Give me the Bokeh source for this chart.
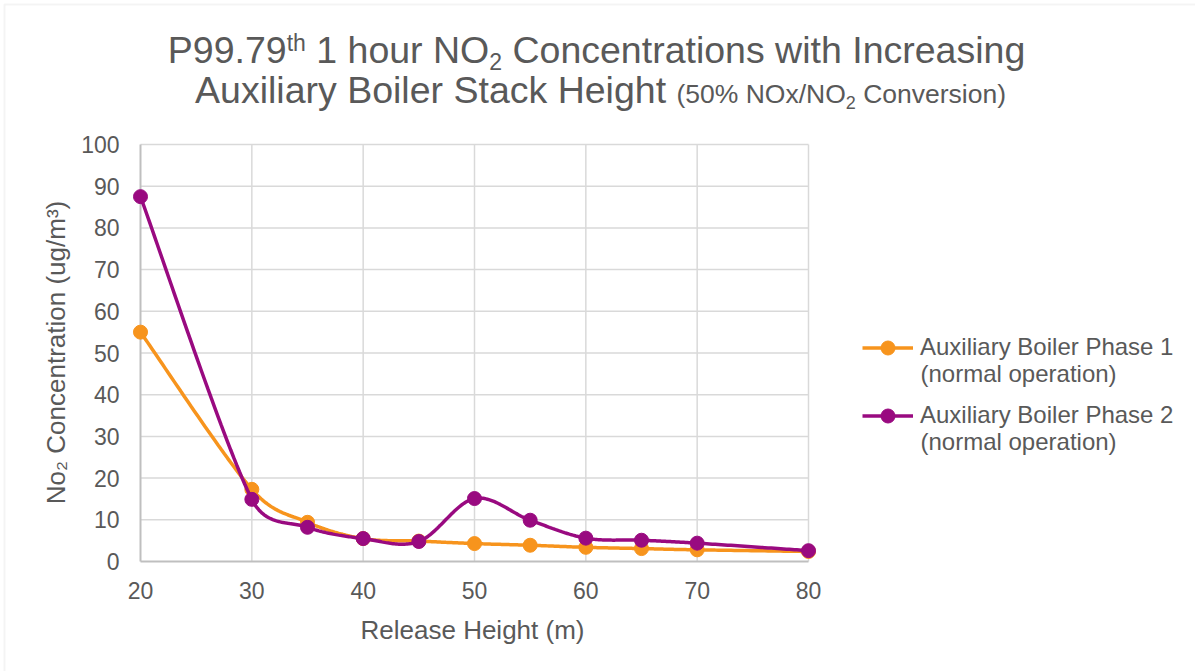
from bokeh.plotting import figure
from bokeh.models import Label, Legend, LegendItem, BoxAnnotation, Range1d
from bokeh.core.properties import value
from bokeh.embed import file_html
from bokeh.resources import INLINE
import numpy as np

# ---- data ----
release_height = [20, 30, 35, 40, 45, 50, 55, 60, 65, 70, 80]
phase1 = [55.0, 17.3, 9.4, 5.5, 4.9, 4.3, 3.9, 3.4, 3.1, 2.8, 2.4]
phase2 = [87.5, 14.9, 8.2, 5.5, 4.8, 15.1, 9.9, 5.6, 5.1, 4.4, 2.6]
series_names = ["Auxiliary Boiler Phase 1", "Auxiliary Boiler Phase 2"]
series_sub = ["(normal operation)", "(normal operation)"]
x_ticks = [20, 30, 40, 50, 60, 70, 80]
y_ticks = [0, 10, 20, 30, 40, 50, 60, 70, 80, 90, 100]
x_title = "Release Height (m)"
y_title = "No\u2082 Concentration (ug/m\u00b3)"

ORANGE = "#F7941D"
PURPLE = "#990A80"
TXT = "#595959"
GRID = "#D9D9D9"
AXIS = "#BFBFBF"
FONT = "Liberation Sans"

W, H = 1195, 671
# plot area in canvas pixels
PL, PR, PT, PB = 140, 808, 144, 561
KX = (x_ticks[-1] - x_ticks[0]) / (PR - PL)   # data units per px
KY = (y_ticks[-1] - y_ticks[0]) / (PB - PT)


def dx(px):
    return x_ticks[0] + (px - PL) * KX


def dy(py):
    return y_ticks[0] + (PB - py) * KY


# frame covers the whole canvas; scales map the plot area to the pixels above
p = figure(width=W, height=H, output_backend="svg", toolbar_location=None,
           x_range=Range1d(dx(0), dx(W)), y_range=Range1d(dy(H), dy(0)),
           min_border=0, x_axis_type=None, y_axis_type=None)
p.outline_line_color = None
p.xgrid.visible = False
p.ygrid.visible = False
p.background_fill_color = "white"
p.border_fill_color = "white"


def smooth(xs, ys, n=40):
    # Excel-like smoothed line (Bezier, tension 1/6 limited to half segment), in pixel space
    P = np.column_stack([(np.array(xs) - x_ticks[0]) / KX, np.array(ys) / KY]).astype(float)
    m = len(P)
    t = np.linspace(0, 1, n)
    out = []
    for i in range(m - 1):
        p0 = P[i - 1] if i > 0 else P[i]
        p1 = P[i]
        p2 = P[i + 1]
        p3 = P[i + 2] if i + 2 < m else P[i + 1]
        d12 = np.linalg.norm(p2 - p1)
        d02 = np.linalg.norm(p2 - p0)
        d13 = np.linalg.norm(p3 - p1)
        a = 1 / 6.0
        b = 1 / 6.0
        if d02 / 6.0 > d12 / 2.0 and d02 > 0:
            a = d12 / (2 * d02)
        if d13 / 6.0 > d12 / 2.0 and d13 > 0:
            b = d12 / (2 * d13)
        c1 = p1 + a * (p2 - p0)
        c2 = p2 - b * (p3 - p1)
        for tt in (t if i == 0 else t[1:]):
            bz = ((1 - tt) ** 3) * p1 + 3 * ((1 - tt) ** 2) * tt * c1 + 3 * (1 - tt) * tt ** 2 * c2 + tt ** 3 * p2
            out.append(bz)
    out = np.array(out)
    return list(out[:, 0] * KX + x_ticks[0]), list(out[:, 1] * KY)


# chart border (only top and left edges visible in the reference)
p.add_layout(BoxAnnotation(left=dx(4), right=dx(W + 20), top=dy(4), bottom=dy(H + 20),
                           fill_alpha=0, line_color=GRID, line_width=2, level="underlay"))

# grid lines from tick arrays
p.segment(x0=x_ticks[0], x1=x_ticks[-1], y0=y_ticks[1:], y1=y_ticks[1:], line_color=GRID, line_width=1.5)
p.segment(x0=x_ticks[1:], x1=x_ticks[1:], y0=y_ticks[0], y1=y_ticks[-1], line_color=GRID, line_width=1.5)
# axis lines
p.segment(x0=[x_ticks[0]], x1=[x_ticks[-1]], y0=[y_ticks[0]], y1=[y_ticks[0]], line_color=AXIS, line_width=2)
p.segment(x0=[x_ticks[0]], x1=[x_ticks[0]], y0=[y_ticks[0]], y1=[y_ticks[-1]], line_color=AXIS, line_width=2)

# tick labels
p.text(x=x_ticks, y=[dy(590)] * len(x_ticks), text=[str(v) for v in x_ticks],
       text_font=value(FONT), text_font_size="23px", text_color=TXT,
       text_align="center", text_baseline="middle")
p.text(x=[dx(119)] * len(y_ticks), y=y_ticks, text=[str(v) for v in y_ticks],
       text_font=value(FONT), text_font_size="23px", text_color=TXT,
       text_align="right", text_baseline="middle")
# axis titles
p.text(x=[dx(472)], y=[dy(629)], text=[x_title], text_font=value(FONT), text_font_size="26px",
       text_color=TXT, text_align="center", text_baseline="middle")
p.text(x=[dx(55)], y=[dy(352)], text=[y_title], text_font=value(FONT), text_font_size="26px",
       text_color=TXT, text_align="center", text_baseline="middle", angle=np.pi / 2)

# series
sx1, sy1 = smooth(release_height, phase1)
sx2, sy2 = smooth(release_height, phase2)
l1 = p.line(sx1, sy1, line_color=ORANGE, line_width=3.5)
m1 = p.scatter(release_height, phase1, size=14, fill_color=ORANGE, line_color=ORANGE)
l2 = p.line(sx2, sy2, line_color=PURPLE, line_width=3.5)
m2 = p.scatter(release_height, phase2, size=14, fill_color=PURPLE, line_color=PURPLE)

# legend (location: frame = canvas, y measured from bottom)
LG_H = 35
legend = Legend(items=[LegendItem(label=series_names[0], renderers=[l1, m1]),
                       LegendItem(label=series_names[1], renderers=[l2, m2])],
                location=(862, H - (347 - LG_H / 2 + 2 * LG_H + (68 - LG_H))), orientation="vertical",
                glyph_width=51, glyph_height=LG_H, label_height=LG_H, label_standoff=7,
                spacing=68 - LG_H, padding=0, margin=0,
                label_text_font=FONT, label_text_font_size="24px", label_text_color=TXT,
                border_line_color=None, background_fill_alpha=0)
p.add_layout(legend)


def sx(cx):
    return cx


def sy(cy):
    return H - cy


for txt, mid in zip(series_sub, [373, 441]):
    p.add_layout(Label(x=sx(920), y=sy(mid), x_units="screen", y_units="screen", text=txt,
                       text_font=FONT, text_font_size="24px", text_color=TXT,
                       text_baseline="middle", text_align="left"))

# ---- title built from pieces (Arial metrics) ----
AW = {' ': 278, '(': 333, ')': 333, '%': 889, '/': 278, '.': 278, 'A': 667, 'B': 667, 'C': 722,
      'H': 722, 'I': 278, 'N': 722, 'O': 778, 'P': 667, 'S': 667, 'a': 556, 'c': 500, 'e': 556,
      'g': 556, 'h': 556, 'i': 222, 'k': 500, 'l': 222, 'n': 556, 'o': 556, 'r': 333, 's': 500,
      't': 278, 'u': 556, 'v': 500, 'w': 722, 'x': 500, 'y': 500, 'm': 833}


def tw(s, size):
    return sum(AW.get(ch, 556) for ch in s) * size / 1000.0


def title_line(pieces, cx, base):
    total = sum(tw(s, sz) for s, sz, d in pieces)
    x = cx - total / 2.0
    for s, sz, d in pieces:
        lead = len(s) - len(s.lstrip())
        x0 = x + tw(s[:lead], sz)
        mid = base - d - 0.35 * sz
        p.add_layout(Label(x=sx(x0), y=sy(mid), x_units="screen", y_units="screen", text=s.strip(),
                           text_font=FONT, text_font_size=f"{sz}px", text_color=TXT,
                           text_baseline="middle", text_align="left"))
        x += tw(s, sz)


title_line([("P99.79", 37.5, 0), ("th", 23, 12), (" 1 hour NO", 37.5, 0), ("2", 23, -6),
            (" Concentrations with Increasing", 37.5, 0)], 596, 63)
title_line([("Auxiliary Boiler Stack Height ", 37.5, 0), ("(50% NOx/NO", 26.5, 0), ("2", 18, -5),
            (" Conversion)", 26.5, 0)], 600, 103)

open("out.html", "w").write(file_html(p, INLINE))
